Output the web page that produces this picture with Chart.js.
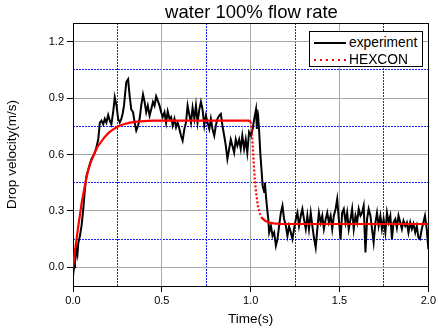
<!DOCTYPE html>
<html>
<head>
<meta charset="utf-8">
<script src="https://cdn.jsdelivr.net/npm/chart.js@4"></script>
<style>
  html, body { margin:0; padding:0; background:#fff; }
  #wrap { position:relative; width:438px; height:336px; background:#fff; font-family:"Liberation Sans", Arial, sans-serif; color:#000; }
  #c { position:absolute; left:0; top:0; }
  #title { position:absolute; left:73px; top:0; width:357px; text-align:center; font-size:18.5px; line-height:24px; white-space:nowrap; }
  #legend { position:absolute; left:309px; top:31px; width:112px; height:34px; border:1px solid #000; background:#fff; font-size:13.8px; }
  .row { position:absolute; left:0; height:16px; width:112px; }
  .row span { position:absolute; left:39px; top:0; line-height:16px; white-space:nowrap; }
  .sample { position:absolute; left:4px; width:32px; height:2px; top:7px; }
</style>
</head>
<body>
<div id="wrap">
  <canvas id="c" width="438" height="336"></canvas>
  <div id="title">water 100% flow rate</div>
  <div id="legend">
    <div class="row" style="top:3px"><div class="sample" style="background:#000"></div><span>experiment</span></div>
    <div class="row" style="top:19.5px"><div class="sample" style="background:repeating-linear-gradient(to right,#ff0000 0 2px,transparent 2px 6px)"></div><span>HEXCON</span></div>
  </div>
</div>
<script>
// ---- data ----
const xTicks = [0, 0.5, 1.0, 1.5, 2.0];
const xMinorTicks = [0.25, 0.75, 1.25, 1.75];
const yTicks = [0, 0.3, 0.6, 0.9, 1.2];
const yMinorTicks = [0.15, 0.45, 0.75, 1.05];

const expT = [0.000,0.006,0.011,0.020,0.025,0.030,0.039,0.048,0.058,0.067,0.076,0.086,0.095,0.104,0.113,0.123,0.132,0.142,0.151,0.160,0.170,0.179,0.188,0.198,0.207,0.216,0.226,0.235,0.245,0.254,0.263,0.272,0.280,0.287,0.294,0.300,0.310,0.319,0.328,0.338,0.347,0.356,0.366,0.375,0.384,0.394,0.403,0.412,0.421,0.431,0.440,0.450,0.459,0.468,0.477,0.487,0.496,0.505,0.515,0.524,0.533,0.543,0.552,0.561,0.571,0.580,0.589,0.599,0.608,0.617,0.627,0.636,0.645,0.655,0.664,0.673,0.683,0.692,0.701,0.711,0.720,0.729,0.739,0.748,0.757,0.767,0.776,0.785,0.795,0.804,0.813,0.823,0.832,0.841,0.851,0.860,0.869,0.879,0.888,0.897,0.907,0.916,0.925,0.935,0.944,0.953,0.963,0.972,0.981,0.991,1.002,1.011,1.020,1.030,1.035,1.043,1.048,1.054,1.062,1.067,1.076,1.080,1.086,1.091,1.099,1.104,1.114,1.123,1.132,1.142,1.151,1.160,1.170,1.179,1.188,1.198,1.207,1.216,1.226,1.235,1.244,1.254,1.263,1.272,1.282,1.291,1.300,1.310,1.319,1.328,1.338,1.347,1.356,1.366,1.375,1.384,1.394,1.403,1.412,1.422,1.431,1.440,1.450,1.459,1.468,1.478,1.487,1.496,1.506,1.515,1.524,1.534,1.543,1.552,1.562,1.571,1.580,1.590,1.599,1.608,1.618,1.627,1.636,1.646,1.655,1.664,1.674,1.683,1.692,1.702,1.711,1.720,1.730,1.739,1.748,1.758,1.767,1.776,1.786,1.795,1.804,1.814,1.823,1.832,1.842,1.851,1.860,1.870,1.879,1.888,1.898,1.907,1.916,1.926,1.935,1.944,1.953,1.963,1.972,1.981,1.991,2.000];
const expV = [-0.046,0.000,0.025,0.096,0.070,0.130,0.167,0.220,0.310,0.416,0.487,0.520,0.550,0.576,0.590,0.610,0.640,0.680,0.770,0.780,0.760,0.790,0.770,0.810,0.780,0.760,0.825,0.905,0.860,0.790,0.770,0.790,0.820,0.860,0.930,0.985,1.000,0.910,0.840,0.825,0.770,0.727,0.753,0.790,0.860,0.920,0.880,0.825,0.860,0.807,0.840,0.880,0.860,0.910,0.887,0.860,0.825,0.800,0.825,0.770,0.830,0.790,0.800,0.754,0.790,0.745,0.770,0.736,0.700,0.674,0.736,0.770,0.860,0.810,0.770,0.850,0.790,0.860,0.770,0.840,0.880,0.840,0.754,0.807,0.770,0.736,0.790,0.736,0.700,0.754,0.790,0.807,0.816,0.754,0.700,0.647,0.576,0.630,0.680,0.647,0.610,0.680,0.647,0.680,0.630,0.700,0.630,0.680,0.610,0.720,0.700,0.736,0.790,0.840,0.736,0.790,0.720,0.610,0.505,0.434,0.400,0.450,0.380,0.327,0.256,0.185,0.220,0.167,0.185,0.114,0.150,0.220,0.290,0.327,0.256,0.220,0.167,0.220,0.185,0.150,0.203,0.256,0.290,0.220,0.274,0.310,0.256,0.203,0.274,0.203,0.290,0.220,0.158,0.105,0.203,0.290,0.238,0.274,0.203,0.256,0.290,0.238,0.274,0.203,0.274,0.310,0.363,0.256,0.150,0.290,0.310,0.238,0.290,0.203,0.256,0.310,0.203,0.274,0.238,0.310,0.274,0.290,0.327,0.078,0.256,0.310,0.274,0.203,0.132,0.238,0.290,0.220,0.274,0.203,0.256,0.185,0.290,0.238,0.274,0.150,0.238,0.256,0.210,0.274,0.238,0.203,0.247,0.220,0.238,0.185,0.238,0.203,0.230,0.185,0.220,0.158,0.150,0.203,0.238,0.274,0.203,0.096];

const hexT = [0,0.01,0.02,0.03,0.04,0.05,0.06,0.07,0.08,0.09,0.10,0.12,0.14,0.16,0.18,0.20,0.22,0.25,0.28,0.32,0.36,0.40,0.45,0.50,0.60,0.70,0.80,0.90,0.99,1.000,1.005,1.010,1.015,1.020,1.025,1.030,1.040,1.050,1.060,1.080,1.100,1.130,1.160,1.200,1.300,1.500,1.700,2.000];
const hexV = [0,0.08,0.15,0.22,0.285,0.35,0.40,0.45,0.495,0.53,0.56,0.605,0.645,0.67,0.695,0.715,0.73,0.748,0.76,0.77,0.775,0.778,0.78,0.78,0.78,0.78,0.78,0.78,0.78,0.775,0.74,0.67,0.59,0.51,0.45,0.40,0.33,0.29,0.265,0.248,0.238,0.233,0.231,0.23,0.23,0.23,0.23,0.23];

const FONT = '"Liberation Sans", Arial, sans-serif';
Chart.defaults.font.family = FONT;
Chart.defaults.color = '#000';

const pts = (ts, vs) => ts.map((t, i) => ({x: t, y: vs[i]}));
const setTicks = arr => s => { s.ticks = arr.map(v => ({value: v})); };
// dotted look only where the model curve falls steeply (as in the reference)
const steepDash = ctx => {
  const dx = Math.abs(ctx.p1.x - ctx.p0.x), dy = ctx.p1.y - ctx.p0.y;
  return dy > 2.5 * dx ? [2, 2] : undefined;
};

new Chart(document.getElementById('c'), {
  type: 'line',
  data: {
    datasets: [
      { label: 'HEXCON', data: pts(hexT, hexV), borderColor: '#ff0000', borderWidth: 2.2,
        segment: { borderDash: steepDash },
        pointRadius: 0, tension: 0, order: 0, xAxisID: 'x', yAxisID: 'y' },
      { label: 'experiment', data: pts(expT, expV), borderColor: '#000000', borderWidth: 2,
        pointRadius: 0, tension: 0, order: 1, xAxisID: 'x', yAxisID: 'y' }
    ]
  },
  options: {
    responsive: false, animation: false, devicePixelRatio: 1,
    layout: { padding: { top: 23, right: 8, left: 0, bottom: 0 } },
    plugins: { legend: { display: false }, tooltip: { enabled: false }, title: { display: false } },
    scales: {
      xMinor: {
        type: 'linear', position: 'bottom', min: 0, max: 2, display: true,
        afterBuildTicks: setTicks(xMinorTicks),
        ticks: { display: false },
        grid: { color: '#1e1eff', lineWidth: 1, drawTicks: false },
        border: { display: false, dash: [2, 1] },
        afterFit: s => { s.height = 0; }
      },
      yMinor: {
        type: 'linear', position: 'left', min: -0.1, max: 1.3, display: true,
        afterBuildTicks: setTicks(yMinorTicks),
        ticks: { display: false },
        grid: { color: '#1e1eff', lineWidth: 1, drawTicks: false },
        border: { display: false, dash: [2, 1] },
        afterFit: s => { s.width = 0; }
      },
      x: {
        type: 'linear', position: 'bottom', min: 0, max: 2,
        afterBuildTicks: setTicks(xTicks),
        ticks: { callback: v => v.toFixed(1), font: { size: 11 }, color: '#000', padding: 2, maxRotation: 0, autoSkip: false },
        grid: { color: '#a8a8a8', lineWidth: 1, tickColor: '#000', tickLength: 6, tickWidth: 1 },
        border: { color: '#000', width: 1 },
        title: { display: true, text: 'Time(s)', font: { size: 13.5 }, color: '#000', padding: { top: 0, bottom: 9 } },
        afterFit: s => { s.height = 50; }
      },
      y: {
        type: 'linear', position: 'left', min: -0.1, max: 1.3,
        afterBuildTicks: setTicks(yTicks),
        ticks: { callback: v => v.toFixed(1), font: { size: 11 }, color: '#000', padding: 3, autoSkip: false },
        grid: { color: '#a8a8a8', lineWidth: 1, tickColor: '#000', tickLength: 6, tickWidth: 1 },
        border: { color: '#000', width: 1 },
        title: { display: true, text: 'Drop velocity(m/s)', font: { size: 13.5 }, color: '#000', padding: { top: 4, bottom: 0 } },
        afterFit: s => { s.width = 73; }
      },
      xTop: {
        type: 'linear', position: 'top', min: 0, max: 2, display: true,
        ticks: { display: false }, grid: { display: false, drawTicks: false },
        border: { color: '#000', width: 1 },
        afterFit: s => { s.height = 0; }
      },
      yRight: {
        type: 'linear', position: 'right', min: -0.1, max: 1.3, display: true,
        ticks: { display: false }, grid: { display: false, drawTicks: false },
        border: { color: '#000', width: 1 },
        afterFit: s => { s.width = 0; }
      }
    }
  }
});
</script>
</body>
</html>
